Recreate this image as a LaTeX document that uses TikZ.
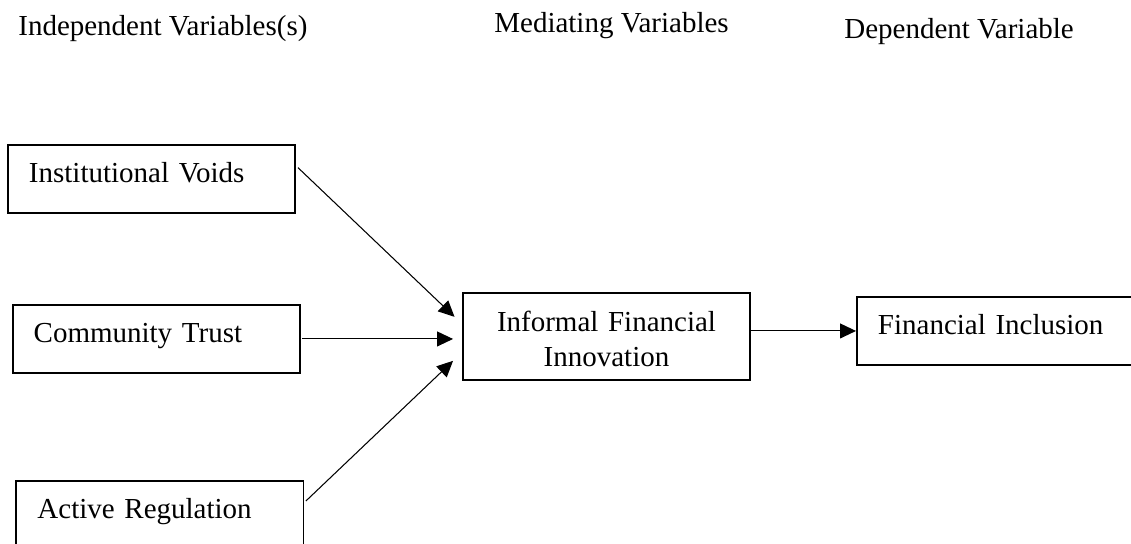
\documentclass[tikz,border=0pt]{standalone}
\usepackage{fontspec}
\setmainfont{Liberation Serif}
\usetikzlibrary{arrows.meta}

\begin{document}
\begin{tikzpicture}[
    font=\fontsize{16.5}{20}\selectfont,
    varbox/.style={draw,line width=1.1pt,rectangle,anchor=north west,
      inner xsep=0.42cm,inner ysep=0pt,text width=4.9cm,align=left,
      text height=0.76cm,text depth=0.6cm},
    midbox/.style={draw,line width=1.1pt,rectangle,
      inner xsep=0.42cm,inner ysep=0pt,text width=4.9cm,align=center,
      text height=0.78cm,text depth=0.966cm},
    link/.style={line width=0.6pt,-{Triangle[length=0.32cm,width=0.3cm]}}
  ]
    \useasboundingbox (0,0) rectangle (22.62,10.88);
    \clip (0,0) rectangle (22.62,10.88);

    % column titles
    \node[anchor=base west,inner sep=0pt] (indep) at (0.36,10.16) {Independent Variables(s)};
    \node[anchor=base west,inner sep=0pt] (mediat) at (9.88,10.22) {Mediating Variables};
    \node[anchor=base west,inner sep=0pt] (depend) at (16.88,10.1) {Dependent Variable};

    % variables
    \node[varbox] (iv) at (0.14,8.0) {Institutional Voids};
    \node[varbox] (ct) at (0.234,4.8) {Community Trust};
    \node[varbox] (ar) at (0.31,1.28) {Active Regulation};
    \node[midbox] (ifi) at (12.13,4.153) {Informal Financial\\Innovation};
    \node[varbox] (fi) at (17.12,4.96) {Financial Inclusion};

    % links
    \draw[link] ([xshift=0.04cm,yshift=0.227cm]iv.east) -- ([xshift=-0.15cm,yshift=0.39cm]ifi.west);
    \draw[link] ([xshift=0.03cm]ct.east) -- ([xshift=-0.18cm]ifi.west |- ct.east);
    \draw[link] ([xshift=0.03cm,yshift=0.28cm]ar.east) -- ([xshift=-0.18cm,yshift=-0.49cm]ifi.west);
    \draw[link] (ifi.east |- fi.west) -- (fi.west);
\end{tikzpicture}
\end{document}
